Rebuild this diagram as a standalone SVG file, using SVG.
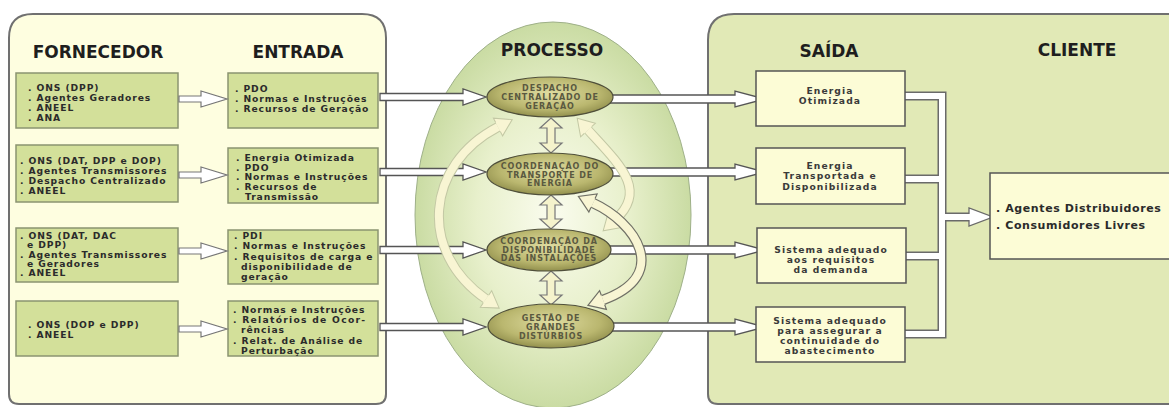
<svg xmlns="http://www.w3.org/2000/svg" width="1169" height="407" viewBox="0 0 1169 407">
<defs>
<radialGradient id="egg" cx="50%" cy="50%" r="55%">
<stop offset="0%" stop-color="#FAFCEE"/>
<stop offset="50%" stop-color="#E8F0CC"/>
<stop offset="100%" stop-color="#C3D79A"/>
</radialGradient>
<radialGradient id="nod" cx="50%" cy="42%" r="60%">
<stop offset="0%" stop-color="#E0DDA2"/>
<stop offset="65%" stop-color="#BAB76F"/>
<stop offset="100%" stop-color="#8E8C4A"/>
</radialGradient>
<marker id="hf" markerUnits="userSpaceOnUse" orient="auto-start-reverse" overflow="visible" refX="0" refY="0" markerWidth="1" markerHeight="1">
<path d="M0,-5 L0,-10 L16,0 L0,10 L0,5" fill="#F8F5D3" stroke="#C3C8A4" stroke-width="1"/>
</marker>
<marker id="hg" markerUnits="userSpaceOnUse" orient="auto-start-reverse" overflow="visible" refX="0" refY="0" markerWidth="1" markerHeight="1">
<path d="M0,-5 L0,-10 L16,0 L0,10 L0,5" fill="#F8F5D3" stroke="#707066" stroke-width="1.2"/>
</marker>
</defs>
<style>
.pnl{stroke:#707070;stroke-width:2}
.gb{fill:#D3E09A;stroke:#8B9470;stroke-width:1.5}
.yb{fill:#FCFCD6;stroke:#555;stroke-width:1.5}
.hd{font-family:"DejaVu Sans",sans-serif;font-weight:bold;font-size:17px;fill:#1e1e1e;text-anchor:middle}
.bt{font-family:"DejaVu Sans",sans-serif;font-weight:bold;font-size:9.2px;letter-spacing:.9px;fill:#2b2b2b}
.st{font-family:"DejaVu Sans",sans-serif;font-weight:bold;font-size:9.2px;letter-spacing:1.1px;fill:#3a3a3a;text-anchor:middle}
.ct{font-family:"DejaVu Sans",sans-serif;font-weight:bold;font-size:11px;letter-spacing:.6px;fill:#2b2b2b}
.et{font-family:"DejaVu Sans",sans-serif;font-weight:bold;font-size:8px;letter-spacing:.9px;fill:#5a5940;text-anchor:middle}
.nd{fill:url(#nod);stroke:#4f4f3a;stroke-width:1.2}
.ha{fill:#fff;stroke:#777;stroke-width:1.2}
.hb{fill:#fff;stroke:#555;stroke-width:1.3}
.va{fill:#F5F3CC;stroke:#777;stroke-width:1.2}
.co{fill:none;stroke:#C3C8A4;stroke-width:10}
.ci{fill:none;stroke:#F8F5D3;stroke-width:8}
.go{fill:none;stroke:#707066;stroke-width:10.4}
.po{fill:none;stroke:#6a6a6a;stroke-width:9}
.pi{fill:none;stroke:#fff;stroke-width:6}
</style>
<rect width="1169" height="407" fill="#fff"/>
<g id="panel-left">
<path class="pnl" fill="#FEFEE0" d="M9,38 Q9,14 33,14 H362 Q386,14 386,38 V394 Q386,404 376,404 H19 Q9,404 9,394 Z"/>
<text class="hd" x="98" y="58">FORNECEDOR</text>
<text class="hd" x="298" y="58">ENTRADA</text>
</g>
<g id="panel-right">
<path class="pnl" fill="#E1E9B6" d="M708,40 Q708,14 734,14 H1175 V404 H718 Q708,404 708,394 Z"/>
<text class="hd" x="829" y="57">SAÍDA</text>
<text class="hd" x="1077" y="56">CLIENTE</text>
</g>
<g id="processo">
<ellipse cx="553" cy="215" rx="138" ry="193" fill="url(#egg)" stroke="#9EB088" stroke-width="1"/>
<text class="hd" x="552" y="56">PROCESSO</text>
</g>
<g id="f1"><rect class="gb" x="16" y="73" width="162" height="55"/>
<text class="bt" x="28" y="91">. ONS (DPP)</text><text class="bt" x="28" y="101">. Agentes Geradores</text><text class="bt" x="28" y="111">. ANEEL</text><text class="bt" x="28" y="121">. ANA</text></g>
<g id="f2"><rect class="gb" x="16" y="145" width="162" height="57"/>
<text class="bt" x="20" y="164">. ONS (DAT, DPP e DOP)</text><text class="bt" x="20" y="174">. Agentes Transmissores</text><text class="bt" x="20" y="184">. Despacho Centralizado</text><text class="bt" x="20" y="194">. ANEEL</text></g>
<g id="f3"><rect class="gb" x="16" y="228" width="162" height="54"/>
<text class="bt" x="20" y="239">. ONS (DAT, DAC</text><text class="bt" x="27" y="248">e DPP)</text><text class="bt" x="20" y="257.5">. Agentes Transmissores</text><text class="bt" x="27" y="266.5">e Geradores</text><text class="bt" x="20" y="276">. ANEEL</text></g>
<g id="f4"><rect class="gb" x="16" y="301" width="162" height="55"/>
<text class="bt" x="28" y="328">. ONS (DOP e DPP)</text><text class="bt" x="28" y="338">. ANEEL</text></g>
<g id="e1"><rect class="gb" x="228" y="73" width="150" height="55"/>
<text class="bt" x="235" y="92">. PDO</text><text class="bt" x="235" y="102">. Normas e Instruções</text><text class="bt" x="235" y="112">. Recursos de Geração</text></g>
<g id="e2"><rect class="gb" x="228" y="148" width="150" height="55"/>
<text class="bt" x="236" y="161">. Energia Otimizada</text><text class="bt" x="236" y="170.5">. PDO</text><text class="bt" x="236" y="180">. Normas e Instruções</text><text class="bt" x="236" y="190">. Recursos de</text><text class="bt" x="245" y="200">Transmissão</text></g>
<g id="e3"><rect class="gb" x="228" y="230" width="150" height="54"/>
<text class="bt" x="234" y="239">. PDI</text><text class="bt" x="234" y="249">. Normas e Instruções</text><text class="bt" x="234" y="260">. Requisitos de carga e</text><text class="bt" x="241" y="270">disponibilidade de</text><text class="bt" x="241" y="280">geração</text></g>
<g id="e4"><rect class="gb" x="228" y="301" width="150" height="55"/>
<text class="bt" x="233" y="313">. Normas e Instruções</text><text class="bt" x="233" y="323" textLength="133" lengthAdjust="spacing">. Relatórios de Ocor-</text><text class="bt" x="241" y="333">rências</text><text class="bt" x="233" y="344">. Relat. de Análise de</text><text class="bt" x="241" y="354">Perturbação</text></g>
<g id="connectors">
<polygon class="ha" points="179,96 201,96 201,91 227,99 201,107 201,102 179,102"/>
<polygon class="ha" points="179,172 201,172 201,167 227,175 201,183 201,178 179,178"/>
<polygon class="ha" points="179,248 201,248 201,243 227,251 201,259 201,254 179,254"/>
<polygon class="ha" points="179,326 201,326 201,321 227,329 201,337 201,332 179,332"/>
<polygon class="hb" points="380,93.5 463,93.5 463,89 486,97 463,105 463,100.5 380,100.5"/>
<polygon class="hb" points="380,168.5 463,168.5 463,164 486,172 463,180 463,175.5 380,175.5"/>
<polygon class="hb" points="380,246.5 463,246.5 463,242 486,250 463,258 463,253.5 380,253.5"/>
<polygon class="hb" points="380,323.5 463,323.5 463,319 486,327 463,335 463,330.5 380,330.5"/>
<polygon class="hb" points="600,95 735,95 735,91 765,99 735,107 735,103 600,103"/>
<polygon class="hb" points="600,168 735,168 735,164 765,172 735,180 735,176 600,176"/>
<polygon class="hb" points="600,246 735,246 735,242 765,250 735,258 735,254 600,254"/>
<polygon class="hb" points="600,323 735,323 735,319 765,327 735,335 735,331 600,331"/>
<path class="co" d="M498,127 C425,165 418,252 486,299"/>
<path class="ci" d="M498,127 C425,165 418,252 486,299" marker-start="url(#hf)" marker-end="url(#hf)"/>
<path class="co" d="M588,130 C620,165 648,190 615,220"/>
<path class="ci" d="M588,130 C620,165 648,190 615,220" marker-start="url(#hf)" marker-end="url(#hf)"/>
<path class="go" d="M593,203 C635,222 672,275 603,300"/>
<path class="ci" d="M593,203 C635,222 672,275 603,300" marker-start="url(#hg)" marker-end="url(#hg)"/>
<polygon class="va" points="551,118 562,128 555,128 555,143 562,143 551,153 540,143 547,143 547,128 540,128"/>
<polygon class="va" points="551,195 562,205 555,205 555,219 562,219 551,229 540,219 547,219 547,205 540,205"/>
<polygon class="va" points="551,271 562,281 555,281 555,295 562,295 551,305 540,295 547,295 547,281 540,281"/>
<path class="po" d="M905,96 H942 V334 H905 M905,179 H942 M905,256 H942 M942,217 H969"/>
<path class="pi" d="M905,96 H942 V334 H905 M905,179 H942 M905,256 H942 M942,217 H969"/>
<path d="M969,214 L969,208 L993,217 L969,226 L969,220" fill="#fff" stroke="#6a6a6a" stroke-width="1.3"/>
</g>
<g id="p1"><ellipse class="nd" cx="550" cy="97" rx="63" ry="20"/>
<text class="et" x="550" y="91">DESPACHO</text><text class="et" x="550" y="100">CENTRALIZADO DE</text><text class="et" x="550" y="108.5">GERAÇÃO</text></g>
<g id="p2"><ellipse class="nd" cx="550" cy="174" rx="63" ry="21"/>
<text class="et" x="550" y="169">COORDENAÇÃO DO</text><text class="et" x="550" y="177.5">TRANSPORTE DE</text><text class="et" x="550" y="186">ENERGIA</text></g>
<g id="p3"><ellipse class="nd" cx="549" cy="250" rx="62" ry="21"/>
<text class="et" x="549" y="244">COORDENAÇÃO DA</text><text class="et" x="549" y="252.5">DISPONIBILIDADE</text><text class="et" x="549" y="261">DAS INSTALAÇÕES</text></g>
<g id="p4"><ellipse class="nd" cx="551" cy="326" rx="63" ry="22"/>
<text class="et" x="551" y="321">GESTÃO DE</text><text class="et" x="551" y="330">GRANDES</text><text class="et" x="551" y="339">DISTÚRBIOS</text></g>
<g id="s1"><rect class="yb" x="756" y="71" width="149" height="55"/>
<text class="st" x="830" y="93.5">Energia</text><text class="st" x="830" y="103.5">Otimizada</text></g>
<g id="s2"><rect class="yb" x="756" y="148" width="149" height="56"/>
<text class="st" x="830" y="169">Energia</text><text class="st" x="830" y="179">Transportada e</text><text class="st" x="830" y="189.5">Disponibilizada</text></g>
<g id="s3"><rect class="yb" x="757" y="228" width="149" height="55"/>
<text class="st" x="831" y="252.5">Sistema adequado</text><text class="st" x="831" y="262.5">aos requisitos</text><text class="st" x="831" y="272.5">da demanda</text></g>
<g id="s4"><rect class="yb" x="756" y="307" width="149" height="55"/>
<text class="st" x="830" y="323.5">Sistema adequado</text><text class="st" x="830" y="334">para assegurar a</text><text class="st" x="830" y="344">continuidade do</text><text class="st" x="830" y="354">abastecimento</text></g>
<g id="c1"><rect class="yb" x="990" y="173" width="190" height="86"/>
<text class="ct" x="996" y="212">. Agentes Distribuidores</text><text class="ct" x="996" y="229">. Consumidores Livres</text></g>
</svg>
